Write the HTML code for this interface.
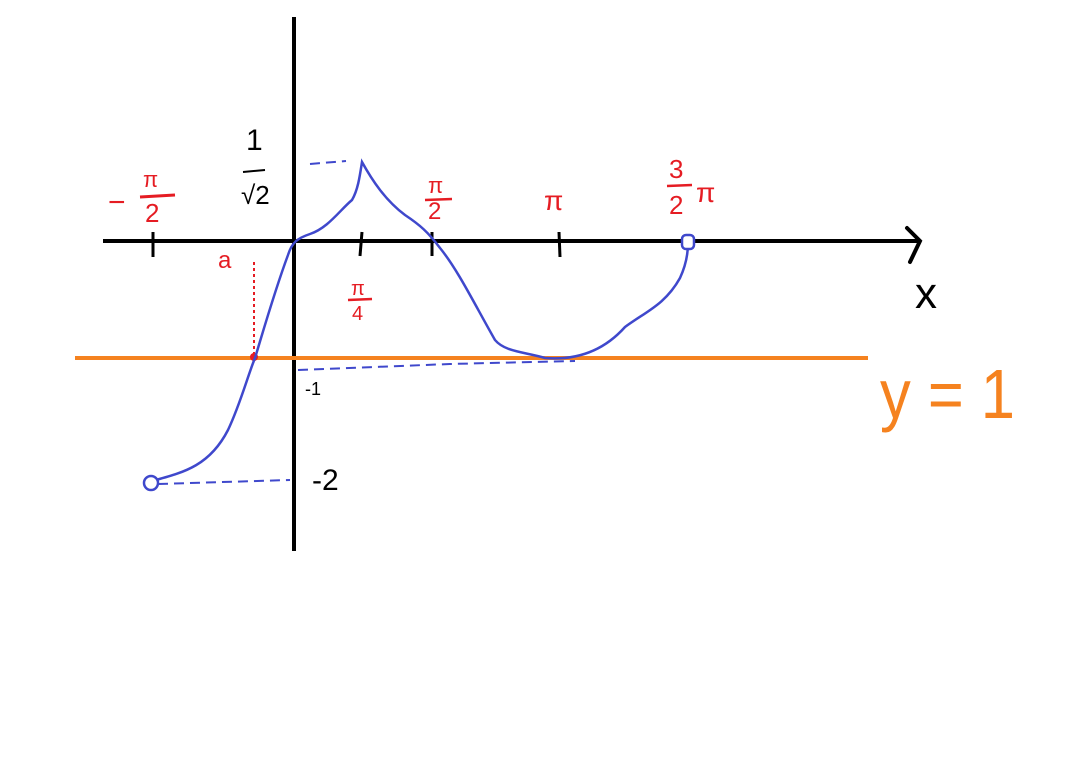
<!DOCTYPE html>
<html><head><meta charset="utf-8"><style>
html,body{margin:0;padding:0;background:#fff;}
svg{display:block;}
text{font-family:"Liberation Sans",sans-serif;}
</style></head><body>
<svg width="1069" height="757" viewBox="0 0 1069 757" xmlns="http://www.w3.org/2000/svg">
<line x1="103" y1="241" x2="920" y2="241" stroke="#000" stroke-width="4"/>
<polyline points="907,228 920,241 910,262" fill="none" stroke="#000" stroke-width="4" stroke-linecap="round"/>
<line x1="294" y1="17" x2="294" y2="551" stroke="#000" stroke-width="4"/>
<g stroke="#000" stroke-width="3">
<line x1="153" y1="232" x2="153" y2="257"/>
<line x1="362" y1="232" x2="360" y2="256"/>
<line x1="432" y1="232" x2="432" y2="256"/>
<line x1="559" y1="232" x2="560" y2="257"/>
</g>
<line x1="75" y1="358" x2="868" y2="358" stroke="#f5821f" stroke-width="4"/>
<g stroke="#3f48cc" stroke-width="2" stroke-dasharray="10,6" fill="none">
<line x1="310" y1="164" x2="346" y2="161"/>
<line x1="158" y1="484" x2="290" y2="480"/>
<polyline points="298,370 450,364 575,361"/>
</g>
<line x1="254" y1="262" x2="254" y2="356" stroke="#e51c23" stroke-width="2" stroke-dasharray="3,3"/>
<circle cx="254" cy="357" r="4" fill="#e51c23"/>
<path d="M156,480 C185,472 210,465 228,430 C240,405 248,375 255,358 C265,325 275,290 288,255 C292,242 298,238 310,234 C328,228 340,210 352,200 C358,190 360,175 362,162 C372,180 385,200 405,215 C420,225 428,232 440,248 C458,270 475,305 495,340 C505,352 525,352 545,358 C570,360 600,355 625,327 C645,312 665,305 680,278 C686,265 688,252 688,243" fill="none" stroke="#3f48cc" stroke-width="2.5"/>
<circle cx="151" cy="483" r="7" fill="#fff" stroke="#3f48cc" stroke-width="2.5"/>
<rect x="682" y="235" width="12" height="14" rx="4" fill="#fff" stroke="#3f48cc" stroke-width="2.5"/>
<text x="246" y="150" font-size="30" fill="#000">1</text>
<line x1="243" y1="172" x2="265" y2="170" stroke="#000" stroke-width="2"/>
<text x="241" y="204" font-size="26" fill="#000">√2</text>
<text x="305" y="395" font-size="18" fill="#000">-1</text>
<text x="312" y="490" font-size="30" fill="#000">-2</text>
<text x="915" y="308" font-size="44" fill="#000">x</text>
<g fill="#e51c23">
<text x="108" y="212" font-size="30">−</text>
<text x="143" y="187" font-size="22">π</text>
<line x1="140" y1="197" x2="175" y2="195" stroke="#e51c23" stroke-width="3"/>
<text x="145" y="222" font-size="26">2</text>
<text x="218" y="268" font-size="24">a</text>
<text x="351" y="295" font-size="20">π</text>
<line x1="348" y1="300" x2="372" y2="299" stroke="#e51c23" stroke-width="2.5"/>
<text x="352" y="320" font-size="20">4</text>
<text x="428" y="193" font-size="22">π</text>
<line x1="425" y1="200" x2="452" y2="199" stroke="#e51c23" stroke-width="2.5"/>
<text x="428" y="219" font-size="24">2</text>
<text x="544" y="210" font-size="28">π</text>
<text x="669" y="178" font-size="26">3</text>
<line x1="667" y1="186" x2="692" y2="185" stroke="#e51c23" stroke-width="2.5"/>
<text x="669" y="214" font-size="26">2</text>
<text x="696" y="202" font-size="28">π</text>
</g>
<text x="880" y="418" font-size="70" fill="#f5821f" textLength="135" lengthAdjust="spacingAndGlyphs">y = 1</text>
</svg>
</body></html>
